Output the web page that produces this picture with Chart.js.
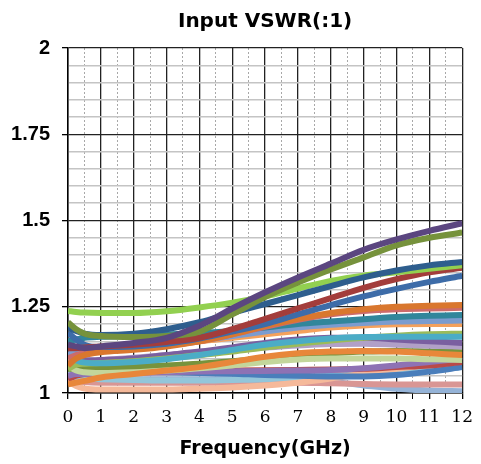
<!DOCTYPE html>
<html>
<head>
<meta charset="utf-8">
<title>Input VSWR</title>
<script src="https://cdn.jsdelivr.net/npm/chart.js@4.4.1/dist/chart.umd.min.js"></script>
<style>
  body { margin: 0; background: #fff; }
  #wrap { width: 481px; height: 464px; }
</style>
</head>
<body>
<div id="wrap"><canvas id="vswr" width="481" height="464"></canvas></div>
<script>
// frequency points (GHz)
const freqGHz = [0, 0.25, 0.5, 1, 2, 3, 4, 5, 6, 7, 8, 9, 10, 11, 12];
const yTickLabels = [1, 1.25, 1.5, 1.75, 2];
const xTickLabels = [0, 1, 2, 3, 4, 5, 6, 7, 8, 9, 10, 11, 12];

// one VSWR curve per unit, same order as freqGHz
const purpleTop   = [1.14, 1.135, 1.13, 1.135, 1.145, 1.16, 1.195, 1.245, 1.292, 1.335, 1.375, 1.415, 1.445, 1.47, 1.492];
const oliveTop    = [1.205, 1.185, 1.172, 1.165, 1.162, 1.165, 1.178, 1.228, 1.278, 1.32, 1.358, 1.393, 1.428, 1.45, 1.465];
const blueDark    = [1.19, 1.18, 1.172, 1.168, 1.172, 1.185, 1.205, 1.232, 1.258, 1.284, 1.31, 1.335, 1.355, 1.37, 1.38];
const greenLight  = [1.238, 1.235, 1.233, 1.232, 1.232, 1.237, 1.248, 1.262, 1.28, 1.303, 1.325, 1.34, 1.35, 1.36, 1.37];
const redDark     = [1.13, 1.13, 1.132, 1.135, 1.14, 1.148, 1.16, 1.185, 1.215, 1.245, 1.275, 1.305, 1.33, 1.35, 1.363];
const blueMid     = [1.175, 1.155, 1.14, 1.133, 1.135, 1.143, 1.158, 1.178, 1.2, 1.228, 1.255, 1.28, 1.302, 1.322, 1.34];
const orangeA     = [1.08, 1.1, 1.11, 1.118, 1.125, 1.135, 1.15, 1.17, 1.195, 1.215, 1.232, 1.243, 1.25, 1.253, 1.255];
const roseA       = [1.1, 1.11, 1.115, 1.12, 1.128, 1.138, 1.15, 1.17, 1.192, 1.212, 1.228, 1.238, 1.243, 1.245, 1.247];
const tealA       = [1.15, 1.155, 1.16, 1.163, 1.166, 1.17, 1.174, 1.18, 1.19, 1.2, 1.207, 1.214, 1.22, 1.224, 1.226];
const periA       = [1.11, 1.12, 1.125, 1.13, 1.135, 1.142, 1.152, 1.165, 1.178, 1.19, 1.198, 1.203, 1.207, 1.209, 1.21];
const orangeLight = [1.096, 1.112, 1.122, 1.13, 1.137, 1.143, 1.15, 1.16, 1.17, 1.18, 1.19, 1.196, 1.199, 1.2, 1.2];
const tealLight   = [1.11, 1.095, 1.088, 1.086, 1.09, 1.098, 1.11, 1.125, 1.14, 1.15, 1.158, 1.162, 1.163, 1.163, 1.163];
const greenB      = [1.07, 1.082, 1.085, 1.087, 1.092, 1.1, 1.11, 1.12, 1.132, 1.143, 1.152, 1.16, 1.166, 1.17, 1.172];
const purpleB     = [1.1, 1.096, 1.095, 1.096, 1.1, 1.11, 1.12, 1.132, 1.145, 1.155, 1.16, 1.16, 1.155, 1.15, 1.145];
const lavender    = [1.11, 1.095, 1.09, 1.095, 1.102, 1.11, 1.118, 1.125, 1.132, 1.138, 1.142, 1.143, 1.14, 1.137, 1.135];
const orangeB     = [1.025, 1.03, 1.035, 1.045, 1.055, 1.065, 1.075, 1.09, 1.105, 1.115, 1.12, 1.122, 1.12, 1.115, 1.11];
const greenPale   = [1.08, 1.065, 1.06, 1.058, 1.06, 1.065, 1.072, 1.08, 1.09, 1.097, 1.1, 1.1, 1.1, 1.098, 1.096];
const oliveB      = [1.07, 1.07, 1.07, 1.072, 1.076, 1.08, 1.085, 1.092, 1.1, 1.108, 1.115, 1.12, 1.122, 1.12, 1.118];
const purpleC     = [1.05, 1.055, 1.055, 1.056, 1.058, 1.06, 1.062, 1.063, 1.064, 1.065, 1.067, 1.072, 1.08, 1.09, 1.1];
const redB        = [1.04, 1.05, 1.055, 1.058, 1.06, 1.062, 1.064, 1.065, 1.066, 1.067, 1.068, 1.07, 1.075, 1.08, 1.09];
const blueC       = [1.1, 1.08, 1.07, 1.065, 1.062, 1.06, 1.058, 1.056, 1.052, 1.05, 1.048, 1.048, 1.052, 1.062, 1.075];
const salmon      = [1.035, 1.02, 1.013, 1.01, 1.01, 1.01, 1.012, 1.016, 1.022, 1.03, 1.042, 1.056, 1.07, 1.082, 1.092];
const blueLight   = [1.06, 1.048, 1.042, 1.04, 1.038, 1.036, 1.036, 1.038, 1.04, 1.045, 1.05, 1.055, 1.06, 1.067, 1.075];
const pinkLight   = [1.04, 1.035, 1.032, 1.03, 1.03, 1.03, 1.03, 1.03, 1.03, 1.03, 1.028, 1.026, 1.025, 1.025, 1.025];
const periLight   = [1.05, 1.045, 1.042, 1.04, 1.04, 1.04, 1.04, 1.04, 1.04, 1.038, 1.033, 1.022, 1.012, 1.007, 1.005];

// first entry is drawn on top
const curves = [purpleTop, oliveTop, blueDark, greenLight, redDark, blueMid, orangeA, roseA, tealA, periA,
  orangeLight, tealLight, greenB, purpleB, lavender, orangeB, greenPale, oliveB, purpleC, redB,
  blueC, salmon, blueLight, pinkLight, periLight];
const lineColors = ['#5b4680', '#76923c', '#2e5e8e', '#92d050', '#a33d3b', '#3d6ca8', '#d9772e', '#cc6b6b', '#31869b', '#7b9ccf',
  '#f4a15c', '#4bacc6', '#9bbb59', '#7a5fa0', '#b1a0c7', '#e8873a', '#c3d69b', '#77933c', '#8e72b4', '#b94a48',
  '#4a7ebb', '#f5b99a', '#93c6da', '#d99694', '#95b3d7'];

const isMajorY = v => Math.abs(v * 4 - Math.round(v * 4)) < 1e-6;
const isMajorX = v => Math.abs(v - Math.round(v)) < 1e-6;

const datasets = curves.map((vals, i) => ({
  label: 'unit ' + (i + 1),
  data: vals.map((v, j) => ({ x: freqGHz[j], y: v })),
  borderColor: lineColors[i],
  borderWidth: 6,
  pointRadius: 0,
  cubicInterpolationMode: 'monotone',
  fill: false
}));

new Chart(document.getElementById('vswr'), {
  type: 'line',
  data: { datasets },
  options: {
    responsive: false,
    animation: false,
    layout: { padding: { left: 0, right: 13, top: 0, bottom: 0 } },
    plugins: {
      legend: { display: false },
      tooltip: { enabled: false },
      title: {
        display: true,
        fullSize: false,
        text: 'Input VSWR(:1)',
        color: '#000',
        font: { family: 'DejaVu Sans', weight: 'bold', size: 20 },
        padding: { top: 10, bottom: 14 }
      }
    },
    scales: {
      x: {
        type: 'linear',
        min: 0,
        max: 12,
        afterFit: s => { s.height = 71; },
        ticks: {
          stepSize: 0.5,
          autoSkip: false,
          maxRotation: 0,
          color: '#000',
          padding: 8,
          font: { family: 'DejaVu Serif', size: 17 },
          callback: v => (xTickLabels.includes(v) ? String(v) : '')
        },
        grid: {
          color: c => (c.tick && isMajorX(c.tick.value) ? '#222' : '#a8a8a8'),
          lineWidth: c => (c.tick && isMajorX(c.tick.value) ? 1.3 : 1),
          tickColor: '#000',
          tickLength: 6
        },
        border: {
          color: '#000',
          width: 1.5,
          dash: c => (c.tick && !isMajorX(c.tick.value) ? [2, 2] : [])
        },
        title: {
          display: true,
          text: 'Frequency(GHz)',
          color: '#000',
          font: { family: 'DejaVu Sans', weight: 'bold', size: 19 },
          padding: { top: 0, bottom: 4 }
        }
      },
      y: {
        min: 1,
        max: 2,
        afterFit: s => { s.width = 68; },
        ticks: {
          stepSize: 0.05,
          autoSkip: false,
          color: '#000',
          padding: 12,
          font: { family: 'Liberation Sans', weight: 'bold', size: 20 },
          callback: v => (yTickLabels.some(t => Math.abs(t - v) < 1e-6) ? String(v) : '')
        },
        grid: {
          color: c => (c.tick && isMajorY(c.tick.value) ? '#222' : '#c4c4c4'),
          lineWidth: c => (c.tick && isMajorY(c.tick.value) ? 1.3 : 1.5),
          tickColor: c => (c.tick && isMajorY(c.tick.value) ? '#000' : 'rgba(0,0,0,0)'),
          tickLength: 6
        },
        border: { color: '#000', width: 1.5 }
      }
    }
  }
});
</script>
</body>
</html>
